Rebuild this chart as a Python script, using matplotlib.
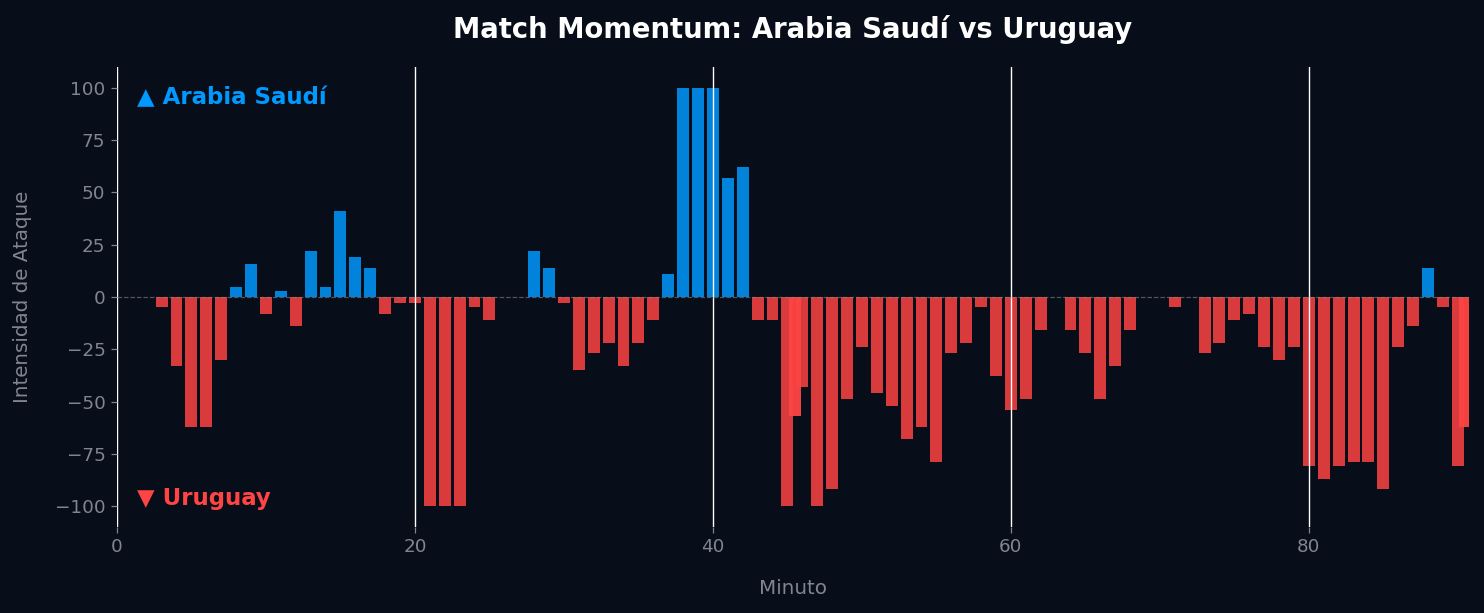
import matplotlib.pyplot as plt
import numpy as np

# Momentum per minute (positive = Arabia Saudí, negative = Uruguay)
minutes = np.arange(1, 91)
momentum = [
    0, 0, -5, -33, -62, -62, -30, 5, 16, -8,
    3, -14, 22, 5, 41, 19, 14, -8, -3, -3,
    -100, -100, -100, -5, -11, 0, 0, 22, 14, -3,
    -35, -27, -22, -33, -22, -11, 11, 100, 100, 100,
    57, 62, -11, -11, -100, -43, -100, -92, -49, -24,
    -46, -52, -68, -62, -79, -27, -22, -5, -38, -54,
    -49, -16, 0, -16, -27, -49, -33, -16, 0, 0,
    -5, 0, -27, -22, -11, -8, -24, -30, -24, -81,
    -87, -81, -79, -79, -92, -24, -14, 14, -5, -81,
]

# Stoppage time entries
extra_minutes = [45.5, 90.5]
extra_momentum = [-57, -62]

home_team = "Arabia Saudí"
away_team = "Uruguay"

bg = "#070d19"
blue = "#0099ff"
red = "#ff4444"
grey = "#80858f"

fig, ax = plt.subplots(figsize=(1484 / 110, 613 / 110), dpi=110)
fig.patch.set_facecolor(bg)
ax.set_facecolor(bg)
fig.subplots_adjust(left=0.0788, right=0.9899, top=0.8907, bottom=0.1403)

colors = [blue if v > 0 else red for v in momentum]
ax.bar(minutes, momentum, width=0.8, color=colors, alpha=0.85, zorder=2)
ax.bar(extra_minutes, extra_momentum, width=0.8, color=red, alpha=0.95, zorder=2.5)

ax.axhline(0, color="#888888", linestyle="--", linewidth=0.8, alpha=0.6, zorder=3)

ax.set_xlim(0, 90.75)
ax.set_ylim(-110, 110)
ax.set_yticks([-100, -75, -50, -25, 0, 25, 50, 75, 100])

ax.grid(axis="x", color="white", linewidth=0.9, zorder=4)
ax.set_axisbelow(False)
for s in ax.spines.values():
    s.set_visible(False)

ax.tick_params(colors=grey, labelsize=12, length=4)
ax.set_xlabel("Minuto", color=grey, fontsize=13, labelpad=15)
ax.set_ylabel("Intensidad de Ataque", color=grey, fontsize=13, labelpad=15)

ax.set_title("Match Momentum: " + home_team + " vs " + away_team,
             color="white", fontsize=18, fontweight="bold", pad=19)

ax.text(0.015, 0.933, "▲ " + home_team, transform=ax.transAxes, color=blue,
        fontsize=15, fontweight="bold", va="center", ha="left")
ax.text(0.015, 0.063, "▼ " + away_team, transform=ax.transAxes, color=red,
        fontsize=15, fontweight="bold", va="center", ha="left")

plt.savefig("out.png", dpi=110, facecolor=bg)
